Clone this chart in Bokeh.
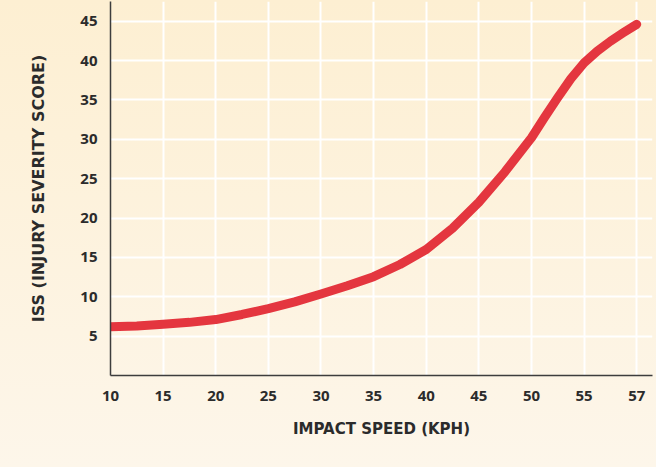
from bokeh.plotting import figure
from bokeh.models import FixedTicker, Range1d
from bokeh.embed import file_html
from bokeh.resources import INLINE

# Tick labels (evenly spaced categories on the x axis)
speed_labels = ["10", "15", "20", "25", "30", "35", "40", "45", "50", "55", "57"]
# Curve samples: position along the speed ticks (0 = 10 kph ... 10 = 57 kph) and ISS value
speed_pos = [0, 0.5, 1, 1.5, 2, 2.5, 3, 3.5, 4, 4.5, 5, 5.5, 6, 6.5, 7, 7.5, 8,
             8.25, 8.5, 8.75, 9, 9.25, 9.5, 9.75, 10]
iss = [6.2, 6.3, 6.5, 6.75, 7.1, 7.75, 8.5, 9.35, 10.35, 11.4, 12.55, 14.1, 16.0, 18.7, 22.0, 25.9, 30.2,
       32.8, 35.3, 37.7, 39.7, 41.2, 42.45, 43.55, 44.6]
y_ticks = [5, 10, 15, 20, 25, 30, 35, 40, 45]

p = figure(width=656, height=467, output_backend="svg", toolbar_location=None,
           x_range=Range1d(0, 10.3), y_range=Range1d(0, 47.5),
           min_border_left=110, min_border_top=1, min_border_bottom=92, min_border_right=4)
p.styles = {"background-image": "linear-gradient(#fdefd2, #fdf6ea)"}
p.background_fill_color = None
p.border_fill_color = None
p.outline_line_color = None

p.line(speed_pos, iss, line_color="#e4363f", line_width=9, line_cap="round", line_join="round")

p.xaxis.ticker = FixedTicker(ticks=list(range(len(speed_labels))))
p.xaxis.major_label_overrides = {i: s for i, s in enumerate(speed_labels)}
p.yaxis.ticker = FixedTicker(ticks=y_ticks)

for ax in (p.xaxis[0], p.yaxis[0]):
    ax.axis_line_color = "#3d3d3d"
    ax.axis_line_width = 1.5
    ax.major_tick_line_color = None
    ax.minor_tick_line_color = None
    ax.major_label_text_font = "Open Sans"
    ax.major_label_text_font_style = "bold"
    ax.major_label_text_font_size = "15px"
    ax.major_label_text_color = "#2b2b2b"
    ax.axis_label_text_font = "DejaVu Sans"
    ax.axis_label_text_font_style = "bold"
    ax.axis_label_text_color = "#2b2b2b"

p.xaxis.axis_label_text_font_size = "15px"
p.yaxis.axis_label_text_font_size = "16px"
p.xaxis.major_label_standoff = 9
p.yaxis.major_label_standoff = 7
p.xaxis.axis_label = "IMPACT SPEED (KPH)"
p.yaxis.axis_label = "ISS (INJURY SEVERITY SCORE)"
p.xaxis.axis_label_standoff = 16
p.yaxis.axis_label_standoff = 29

p.xgrid.ticker = FixedTicker(ticks=list(range(1, len(speed_labels))))
p.ygrid.ticker = FixedTicker(ticks=y_ticks)
for g in (p.xgrid[0], p.ygrid[0]):
    g.grid_line_color = "white"
    g.grid_line_width = 2

open("out.html", "w").write(file_html(p, INLINE))
